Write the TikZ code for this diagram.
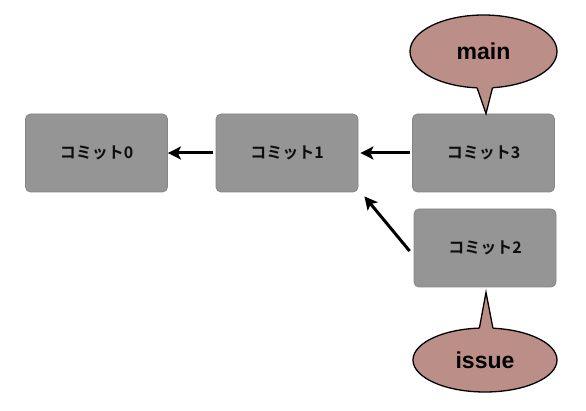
\documentclass[tikz,border=0pt]{standalone}
\usepackage{fontspec}
\setmainfont{Liberation Sans}
\newfontfamily\jpfont{Noto Sans CJK JP}[BoldFont={Noto Sans CJK JP Bold}]
\usetikzlibrary{arrows.meta,positioning,shapes.geometric}
\definecolor{boxgray}{HTML}{959595}
\definecolor{boxline}{HTML}{858585}
\definecolor{tagrose}{HTML}{BC8E88}
\tikzset{
	commit/.style={draw=boxline,line width=0.8pt,fill=boxgray,rounded corners=5pt,minimum width=142pt,minimum height=78pt,inner sep=0pt,text=black!95,font=\jpfont\bfseries\fontsize{16}{16}\selectfont},
	tag/.style={ellipse,draw=black,line width=1.3pt,fill=tagrose,inner sep=0pt,outer sep=0pt,font=\bfseries\fontsize{23}{23}\selectfont},
	link/.style={-{Stealth[length=13pt,width=13pt,inset=3pt]},line width=3pt}
}
\begin{document}
\begin{tikzpicture}[x=1pt,y=-1pt]
	\useasboundingbox (0,0) rectangle (586,411);
	\node[commit] (c0) at (96.5,153) {\raisebox{2pt}{コミット0}};
	\node[commit] (c1) at (287,153) {\raisebox{2pt}{コミット1}};
	\node[commit] (c3) at (483.5,153) {\raisebox{2pt}{コミット3}};
	\node[commit] (c2) at (485,248) {\raisebox{2pt}{コミット2}};
	\draw[link,shorten <=3pt] (c1.west) -- (c0.east); %1->0
	\draw[link,shorten <=2pt,shorten >=2pt] (c3.west) -- (c1.east); %3->1
	\draw[link] ([xshift=-4pt,yshift=-3pt]c2.west) -- ([xshift=6pt,yshift=-4pt]c1.south east); %2->1
	% main
	\node[tag,minimum width=147pt,minimum height=73pt] (main) at (483.5,51.5) {main};
	\coordinate (mtip) at ([xshift=2.5pt]c3.north);
	\fill[tagrose] ([yshift=4pt]main.260) -- (main.260) -- (mtip) -- (main.284) -- ([yshift=4pt]main.284) -- cycle;
	\draw[line width=1.3pt] (main.260) -- (mtip) -- (main.284);
	% issue
	\node[tag,minimum width=144pt,minimum height=64pt] (issue) at (485,360) {issue};
	\coordinate (itip) at ([xshift=1pt,yshift=-5pt]c2.south);
	\fill[tagrose] ([yshift=-4pt]issue.100) -- (issue.100) -- (itip) -- (issue.76) -- ([yshift=-4pt]issue.76) -- cycle;
	\draw[line width=1.3pt] (issue.100) -- (itip) -- (issue.76);
\end{tikzpicture}
\end{document}
